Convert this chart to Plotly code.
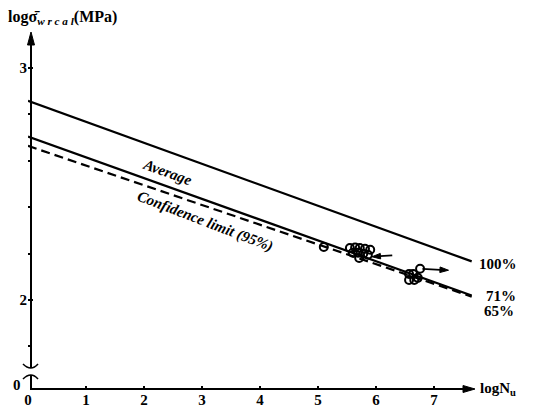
import plotly.graph_objects as go

# ---- data ----
line_x = [0.0, 7.65]
line_100 = [2.858, 2.166]   # Average (100%)
line_71 = [2.704, 2.019]    # 71%
line_65 = [2.664, 2.014]    # Confidence limit (95%), 65%

pts_x = [5.10, 5.55, 5.64, 5.72, 5.81, 5.90, 5.60, 5.69, 5.78, 5.86, 5.71,
         6.57, 6.64, 6.57, 6.66, 6.72, 6.76]
pts_y = [2.228, 2.224, 2.226, 2.224, 2.220, 2.216, 2.203, 2.203, 2.199, 2.195, 2.181,
         2.112, 2.112, 2.086, 2.086, 2.095, 2.134]

# run-out arrows: tail -> head
arrow_tail_x = [6.28, 6.80]
arrow_tail_y = [2.192, 2.134]
arrow_head_x = [5.93, 7.25]
arrow_head_y = [2.186, 2.128]

x_ticks = [0, 1, 2, 3, 4, 5, 6, 7]
y_bottom = 1.616
y_ticks = [2.0, 3.0]
y_ticktext = ["2", "3"]

SERIF = "Liberation Serif"
W, H = 533, 412
L, R, T, B = 28, 55, 31, 23
pw, ph = W - L - R, H - T - B


def px(x):
    return (x - L) / pw


def py(y):
    return (H - B - y) / ph


fig = go.Figure()
fig.add_trace(go.Scatter(x=line_x, y=line_100, mode="lines",
                         line=dict(color="black", width=2.2), showlegend=False))
fig.add_trace(go.Scatter(x=line_x, y=line_71, mode="lines",
                         line=dict(color="black", width=2.2), showlegend=False))
fig.add_trace(go.Scatter(x=line_x, y=line_65, mode="lines",
                         line=dict(color="black", width=2.2, dash="9px,5px"), showlegend=False))
fig.add_trace(go.Scatter(x=pts_x, y=pts_y, mode="markers",
                         marker=dict(symbol="circle-open", size=8, color="black",
                                     line=dict(width=2, color="black")),
                         showlegend=False))
for xt, yt, xh, yh in zip(arrow_tail_x, arrow_tail_y, arrow_head_x, arrow_head_y):
    fig.add_trace(go.Scatter(x=[xt, xh], y=[yt, yh], mode="lines+markers",
                             line=dict(color="black", width=1.8),
                             marker=dict(symbol="arrow", size=[0, 9], angleref="previous",
                                         color="black", opacity=1,
                                         line=dict(color="black", width=1)),
                             showlegend=False))

fb = dict(family=SERIF, size=15, color="black", weight="bold")
fbi = dict(family=SERIF, size=15, color="black", weight="bold", style="italic")


def ptext(x, y, text, font, xanchor="left"):
    return dict(x=px(x), y=py(y), xref="paper", yref="paper", text=text, showarrow=False,
                xanchor=xanchor, yanchor="middle", font=font)


ann = [
    dict(x=2.40, y=2.552, xref="x", yref="y", text="Average", showarrow=False,
         textangle=20, font=fbi, xanchor="center", yanchor="middle"),
    dict(x=3.05, y=2.338, xref="x", yref="y", text="Confidence limit (95%)", showarrow=False,
         textangle=21, font=fbi, xanchor="center", yanchor="middle"),
    ptext(477, 264, "100%", fb),
    ptext(484, 296, "71%", fb),
    ptext(482, 311, "65%", fb),
    ptext(478, 389, "logN<sub>u</sub>", dict(family=SERIF, size=15, color="black", weight="bold")),
    ptext(6, 17, "logσ\u0304<sub><i>w r c a l</i></sub>(MPa)",
          dict(family=SERIF, size=16, color="black", weight="bold")),
    ptext(17, 385, "0", fb, xanchor="center"),
]

LW = dict(color="black", width=2)
shapes = [
    # x axis
    dict(type="line", xref="paper", yref="paper", x0=px(30), x1=px(466), y0=py(389), y1=py(389), line=LW),
    dict(type="path", xref="paper", yref="paper", fillcolor="black", line=dict(color="black", width=1),
         path=f"M {px(475)} {py(389)} L {px(463)} {py(385.5)} L {px(463)} {py(392.5)} Z"),
    # y axis (with break)
    dict(type="line", xref="paper", yref="paper", x0=px(31), x1=px(31), y0=py(389), y1=py(375), line=LW),
    dict(type="line", xref="paper", yref="paper", x0=px(31), x1=px(31), y0=py(368), y1=py(42), line=LW),
    dict(type="path", xref="paper", yref="paper", fillcolor="black", line=dict(color="black", width=1),
         path=f"M {px(31)} {py(32)} L {px(27.5)} {py(45)} L {px(34.5)} {py(45)} Z"),
    dict(type="path", xref="paper", yref="paper", line=dict(color="black", width=1.6),
         path=f"M {px(23)} {py(364)} Q {px(31)} {py(372)} {px(38)} {py(364)}"),
    dict(type="path", xref="paper", yref="paper", line=dict(color="black", width=1.6),
         path=f"M {px(23)} {py(379)} Q {px(31)} {py(371)} {px(38)} {py(379)}"),
]

fig.update_layout(
    width=W, height=H, margin=dict(l=L, r=R, t=T, b=B, autoexpand=False),
    paper_bgcolor="white", plot_bgcolor="white",
    annotations=ann, shapes=shapes,
    xaxis=dict(range=[0, pw / 58.0], tickvals=x_ticks, ticks="inside", ticklen=3,
               tickcolor="black", tickwidth=1.5, showgrid=False, zeroline=False, showline=False,
               tickfont=fb, automargin=False),
    yaxis=dict(range=[y_bottom, y_bottom + ph / 232.0], tickvals=y_ticks, ticktext=y_ticktext,
               ticks="inside", ticklen=5, tickcolor="black", tickwidth=1.5, showgrid=False,
               zeroline=False, showline=False, tickfont=fb, automargin=False,
               minor=dict(tick0=0, dtick=0.2, ticks="inside", ticklen=4, tickcolor="black",
                          tickwidth=1.5, showgrid=False)),
)

fig.write_html("out.html")
